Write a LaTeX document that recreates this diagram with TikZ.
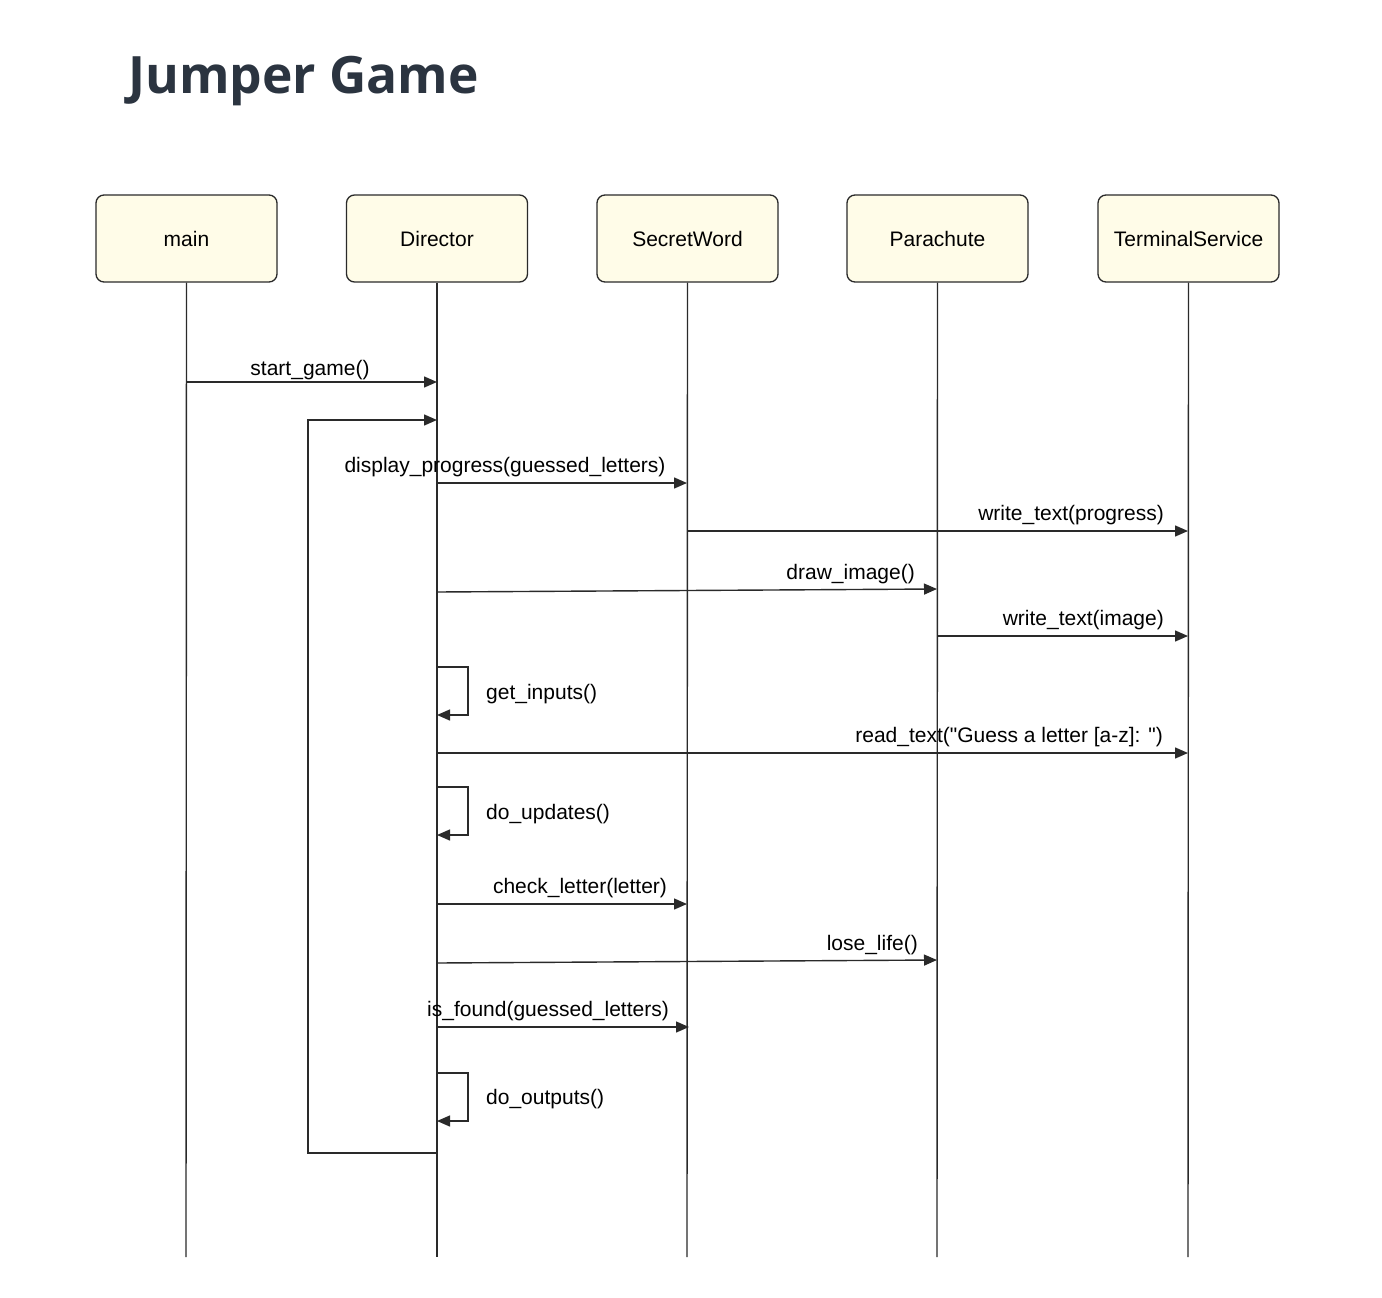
\documentclass[tikz,border=0pt]{standalone}
\usepackage{fontspec}
\setmainfont{Liberation Sans}[Ligatures=TeXOff]
\newfontfamily\titlefont{Open Sans}
\usetikzlibrary{arrows.meta}
\definecolor{boxfill}{HTML}{FFFCE8}
\definecolor{linecol}{HTML}{2A2A2A}
\definecolor{titlecol}{HTML}{2B3440}
\begin{document}
\begin{tikzpicture}[x=1pt,y=-1pt,
  actor/.style={draw=linecol, fill=boxfill, rounded corners=8pt, line width=1.3pt,
    minimum width=181pt, minimum height=87pt, inner sep=0pt, font=\fontsize{21}{25}\selectfont},
  life/.style={draw=linecol, line width=1.4pt},
  msg/.style={draw=linecol, line width=1.4pt, -{Triangle[length=13pt,width=11pt]}},
  lbl/.style={inner sep=0pt, font=\fontsize{21}{25}\selectfont}]
\useasboundingbox (0,0) rectangle (1382,1298);
\node[anchor=base west, inner sep=0pt, text=titlecol, font=\titlefont\bfseries\fontsize{51.5}{56}\selectfont] (title) at (128,93) {Jumper Game};

\node[actor] (main) at (186.5,238.5) {main};
\node[actor] (dir) at (437,238.5) {Director};
\node[actor] (sw) at (687.5,238.5) {SecretWord};
\node[actor] (para) at (937.5,238.5) {Parachute};
\node[actor] (ts) at (1188.5,238.5) {TerminalService};

\coordinate (mainE) at (186,1257);
\coordinate (dirE) at (437,1257);
\coordinate (swE) at (687,1257);
\coordinate (paraE) at (937,1257);
\coordinate (tsE) at (1188,1257);
\draw[life] (main.south) -- (mainE);
\draw[life] (dir.south) -- (dirE);
\draw[life] (sw.south) -- (swE);
\draw[life] (para.south) -- (paraE);
\draw[life] (ts.south) -- (tsE);

% start_game
\coordinate (a1) at (186,382); \coordinate (b1) at (437,382);
\draw[msg] (a1) -- (b1);
\node[lbl, anchor=base] (l1) at (310,375) {start\_game()};

% loop
\coordinate (lpS) at (437,1153); \coordinate (lpA) at (308,1153);
\coordinate (lpB) at (308,420); \coordinate (lpE) at (437,420);
\draw[msg] (lpS) -- (lpA) -- (lpB) -- (lpE);

% display_progress
\coordinate (a2) at (437,483); \coordinate (b2) at (687,483);
\draw[msg] (a2) -- (b2);
\node[lbl, anchor=base] (l2) at (505,472) {display\_progress(guessed\_letters)};

% write_text(progress)
\coordinate (a3) at (687,531); \coordinate (b3) at (1188,531);
\draw[msg] (a3) -- (b3);
\node[lbl, anchor=base east] (l3) at (1164,520) {write\_text(progress)};

% draw_image
\coordinate (a4) at (437,592); \coordinate (b4) at (937,589);
\draw[msg] (a4) -- (b4);
\node[lbl, anchor=base east] (l4) at (915,579) {draw\_image()};

% write_text(image)
\coordinate (a5) at (937,636); \coordinate (b5) at (1188,636);
\draw[msg] (a5) -- (b5);
\node[lbl, anchor=base east] (l5) at (1164,625) {write\_text(image)};

% get_inputs
\coordinate (s1a) at (437,667); \coordinate (s1b) at (468,667);
\coordinate (s1c) at (468,715); \coordinate (s1d) at (437,715);
\draw[msg] (s1a) -- (s1b) -- (s1c) -- (s1d);
\node[lbl, anchor=base west] (l6) at (486,699) {get\_inputs()};

% read_text
\coordinate (a7) at (437,753); \coordinate (b7) at (1188,753);
\draw[msg] (a7) -- (b7);
\node[lbl, anchor=base east] (l7) at (1163,742) {read\_text("Guess a letter [a-z]: ")};

% do_updates
\coordinate (s2a) at (437,787); \coordinate (s2b) at (468,787);
\coordinate (s2c) at (468,835); \coordinate (s2d) at (437,835);
\draw[msg] (s2a) -- (s2b) -- (s2c) -- (s2d);
\node[lbl, anchor=base west] (l8) at (486,819) {do\_updates()};

% check_letter
\coordinate (a9) at (437,904); \coordinate (b9) at (687,904);
\draw[msg] (a9) -- (b9);
\node[lbl, anchor=base] (l9) at (580,893) {check\_letter(letter)};

% lose_life
\coordinate (a10) at (437,963); \coordinate (b10) at (937,960);
\draw[msg] (a10) -- (b10);
\node[lbl, anchor=base east] (l10) at (918,950) {lose\_life()};

% is_found
\coordinate (a11) at (437,1027); \coordinate (b11) at (689,1027);
\draw[msg] (a11) -- (b11);
\node[lbl, anchor=base] (l11) at (548,1016) {is\_found(guessed\_letters)};

% do_outputs
\coordinate (s3a) at (437,1073); \coordinate (s3b) at (468,1073);
\coordinate (s3c) at (468,1121); \coordinate (s3d) at (437,1121);
\draw[msg] (s3a) -- (s3b) -- (s3c) -- (s3d);
\node[lbl, anchor=base west] (l12) at (486,1104) {do\_outputs()};
\end{tikzpicture}
\end{document}
